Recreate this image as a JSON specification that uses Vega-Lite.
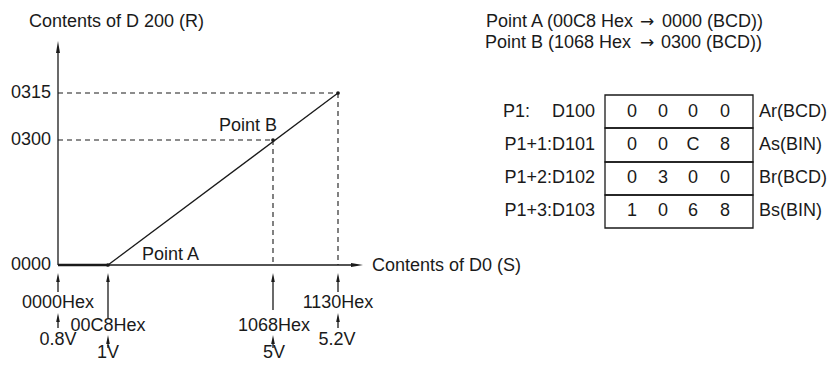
{
  "$schema": "https://vega.github.io/schema/vega-lite/v6.json",
  "width": 831,
  "height": 369,
  "autosize": {"type": "fit", "contains": "padding"},
  "padding": 0,
  "background": "white",
  "config": {"view": {"stroke": null}, "text": {"font": "Liberation Sans", "fontSize": 18, "color": "#1a1a1a"}},
  "datasets": {
    "solid": [
      {"x": 58, "y": 265, "x2": 58, "y2": 50},
      {"x": 58, "y": 265, "x2": 356, "y2": 265},
      {"x": 108, "y": 265, "x2": 338, "y2": 93},
      {"x": 58, "y": 280, "x2": 58, "y2": 292},
      {"x": 58, "y": 320, "x2": 58, "y2": 328},
      {"x": 108, "y": 280, "x2": 108, "y2": 318},
      {"x": 108, "y": 342, "x2": 108, "y2": 348},
      {"x": 273, "y": 280, "x2": 273, "y2": 310},
      {"x": 273, "y": 342, "x2": 273, "y2": 348},
      {"x": 338, "y": 280, "x2": 338, "y2": 292},
      {"x": 338, "y": 320, "x2": 338, "y2": 328}
    ],
    "thick": [{"x": 58, "y": 265, "x2": 108, "y2": 265}],
    "dashed": [
      {"x": 58, "y": 93, "x2": 338, "y2": 93},
      {"x": 338, "y": 93, "x2": 338, "y2": 265},
      {"x": 58, "y": 140, "x2": 273, "y2": 140},
      {"x": 273, "y": 140, "x2": 273, "y2": 265}
    ],
    "headsSmall": [
      {"x": 58, "y": 277.5}, {"x": 58, "y": 317.5}, {"x": 108, "y": 277.5}, {"x": 108, "y": 339.5},
      {"x": 273, "y": 277.5}, {"x": 273, "y": 339.5}, {"x": 338, "y": 277.5}, {"x": 338, "y": 317.5}
    ],
    "headUp": [{"x": 58, "y": 47}],
    "headRight": [{"x": 357, "y": 265}],
    "dots": [{"x": 108, "y": 265}, {"x": 273, "y": 140}, {"x": 338, "y": 93}],
    "cells": [
      {"x": 605, "x2": 753, "y": 95, "y2": 128},
      {"x": 605, "x2": 753, "y": 128, "y2": 162},
      {"x": 605, "x2": 753, "y": 162, "y2": 195},
      {"x": 605, "x2": 753, "y": 195, "y2": 228}
    ],
    "texts": [
      {"x": 29, "y": 22, "t": "Contents of D 200 (R)", "a": "left"},
      {"x": 51, "y": 93, "t": "0315", "a": "right"},
      {"x": 51, "y": 140, "t": "0300", "a": "right"},
      {"x": 51, "y": 265, "t": "0000", "a": "right"},
      {"x": 219, "y": 126, "t": "Point B", "a": "left"},
      {"x": 142, "y": 255, "t": "Point A", "a": "left"},
      {"x": 372, "y": 266, "t": "Contents of D0 (S)", "a": "left"},
      {"x": 58, "y": 303, "t": "0000Hex", "a": "center"},
      {"x": 58, "y": 340, "t": "0.8V", "a": "center"},
      {"x": 108, "y": 326, "t": "00C8Hex", "a": "center"},
      {"x": 108, "y": 353, "t": "1V", "a": "center"},
      {"x": 274, "y": 326, "t": "1068Hex", "a": "center"},
      {"x": 274, "y": 353, "t": "5V", "a": "center"},
      {"x": 338, "y": 303, "t": "1130Hex", "a": "center"},
      {"x": 337, "y": 340, "t": "5.2V", "a": "center"},
      {"x": 633, "y": 22, "t": "Point A (00C8 Hex", "a": "right"},
      {"x": 647, "y": 22, "t": "→", "a": "arrow"},
      {"x": 662, "y": 22, "t": "0000 (BCD))", "a": "left"},
      {"x": 631, "y": 43, "t": "Point B (1068 Hex", "a": "right"},
      {"x": 647, "y": 43, "t": "→", "a": "arrow"},
      {"x": 661, "y": 43, "t": "0300 (BCD))", "a": "left"},
      {"x": 503, "y": 112, "t": "P1:", "a": "left"},
      {"x": 595, "y": 112, "t": "D100", "a": "right"},
      {"x": 595, "y": 145, "t": "P1+1:D101", "a": "right"},
      {"x": 595, "y": 178, "t": "P1+2:D102", "a": "right"},
      {"x": 595, "y": 211, "t": "P1+3:D103", "a": "right"},
      {"x": 759, "y": 112, "t": "Ar(BCD)", "a": "left"},
      {"x": 759, "y": 145, "t": "As(BIN)", "a": "left"},
      {"x": 759, "y": 178, "t": "Br(BCD)", "a": "left"},
      {"x": 759, "y": 211, "t": "Bs(BIN)", "a": "left"},
      {"x": 632, "y": 112, "t": "0", "a": "center"},
      {"x": 663, "y": 112, "t": "0", "a": "center"},
      {"x": 693, "y": 112, "t": "0", "a": "center"},
      {"x": 725, "y": 112, "t": "0", "a": "center"},
      {"x": 632, "y": 145, "t": "0", "a": "center"},
      {"x": 663, "y": 145, "t": "0", "a": "center"},
      {"x": 693, "y": 145, "t": "C", "a": "center"},
      {"x": 725, "y": 145, "t": "8", "a": "center"},
      {"x": 632, "y": 178, "t": "0", "a": "center"},
      {"x": 663, "y": 178, "t": "3", "a": "center"},
      {"x": 693, "y": 178, "t": "0", "a": "center"},
      {"x": 725, "y": 178, "t": "0", "a": "center"},
      {"x": 632, "y": 211, "t": "1", "a": "center"},
      {"x": 663, "y": 211, "t": "0", "a": "center"},
      {"x": 693, "y": 211, "t": "6", "a": "center"},
      {"x": 725, "y": 211, "t": "8", "a": "center"}
    ]
  },
  "layer": [
    {
      "data": {"name": "cells"},
      "mark": {"type": "rect", "fill": null, "stroke": "#1a1a1a", "strokeWidth": 1.3},
      "encoding": {
        "x": {"field": "x", "type": "quantitative", "scale": {"domain": [0, 831], "nice": false, "zero": false}, "axis": null},
        "x2": {"field": "x2"},
        "y": {"field": "y", "type": "quantitative", "scale": {"domain": [0, 369], "nice": false, "zero": false, "reverse": true}, "axis": null},
        "y2": {"field": "y2"}
      }
    },
    {
      "data": {"name": "dashed"},
      "mark": {"type": "rule", "color": "#1a1a1a", "strokeWidth": 1.1, "strokeDash": [5, 4]},
      "encoding": {
        "x": {"field": "x", "type": "quantitative", "scale": {"domain": [0, 831], "nice": false, "zero": false}, "axis": null},
        "x2": {"field": "x2"},
        "y": {"field": "y", "type": "quantitative", "scale": {"domain": [0, 369], "nice": false, "zero": false, "reverse": true}, "axis": null},
        "y2": {"field": "y2"}
      }
    },
    {
      "data": {"name": "solid"},
      "mark": {"type": "rule", "color": "#1a1a1a", "strokeWidth": 1.3},
      "encoding": {
        "x": {"field": "x", "type": "quantitative", "scale": {"domain": [0, 831], "nice": false, "zero": false}, "axis": null},
        "x2": {"field": "x2"},
        "y": {"field": "y", "type": "quantitative", "scale": {"domain": [0, 369], "nice": false, "zero": false, "reverse": true}, "axis": null},
        "y2": {"field": "y2"}
      }
    },
    {
      "data": {"name": "thick"},
      "mark": {"type": "rule", "color": "#1a1a1a", "strokeWidth": 2.4},
      "encoding": {
        "x": {"field": "x", "type": "quantitative", "scale": {"domain": [0, 831], "nice": false, "zero": false}, "axis": null},
        "x2": {"field": "x2"},
        "y": {"field": "y", "type": "quantitative", "scale": {"domain": [0, 369], "nice": false, "zero": false, "reverse": true}, "axis": null},
        "y2": {"field": "y2"}
      }
    },
    {
      "data": {"name": "headsSmall"},
      "mark": {"type": "point", "shape": "M0,-1L0.4,1L-0.4,1Z", "filled": true, "color": "#1a1a1a", "opacity": 1, "size": 81, "strokeWidth": 0},
      "encoding": {
        "x": {"field": "x", "type": "quantitative", "scale": {"domain": [0, 831], "nice": false, "zero": false}, "axis": null},
        "y": {"field": "y", "type": "quantitative", "scale": {"domain": [0, 369], "nice": false, "zero": false, "reverse": true}, "axis": null}
      }
    },
    {
      "data": {"name": "headUp"},
      "mark": {"type": "point", "shape": "M0,-1L0.33,1L-0.33,1Z", "filled": true, "color": "#1a1a1a", "opacity": 1, "size": 144, "strokeWidth": 0},
      "encoding": {
        "x": {"field": "x", "type": "quantitative", "scale": {"domain": [0, 831], "nice": false, "zero": false}, "axis": null},
        "y": {"field": "y", "type": "quantitative", "scale": {"domain": [0, 369], "nice": false, "zero": false, "reverse": true}, "axis": null}
      }
    },
    {
      "data": {"name": "headRight"},
      "mark": {"type": "point", "shape": "M1,0L-1,-0.33L-1,0.33Z", "filled": true, "color": "#1a1a1a", "opacity": 1, "size": 144, "strokeWidth": 0},
      "encoding": {
        "x": {"field": "x", "type": "quantitative", "scale": {"domain": [0, 831], "nice": false, "zero": false}, "axis": null},
        "y": {"field": "y", "type": "quantitative", "scale": {"domain": [0, 369], "nice": false, "zero": false, "reverse": true}, "axis": null}
      }
    },
    {
      "data": {"name": "dots"},
      "mark": {"type": "circle", "color": "#1a1a1a", "opacity": 1, "size": 14},
      "encoding": {
        "x": {"field": "x", "type": "quantitative", "scale": {"domain": [0, 831], "nice": false, "zero": false}, "axis": null},
        "y": {"field": "y", "type": "quantitative", "scale": {"domain": [0, 369], "nice": false, "zero": false, "reverse": true}, "axis": null}
      }
    },
    {
      "data": {"name": "texts"},
      "transform": [{"filter": "datum.a === 'left'"}],
      "mark": {"type": "text", "align": "left", "baseline": "middle"},
      "encoding": {
        "x": {"field": "x", "type": "quantitative", "scale": {"domain": [0, 831], "nice": false, "zero": false}, "axis": null},
        "y": {"field": "y", "type": "quantitative", "scale": {"domain": [0, 369], "nice": false, "zero": false, "reverse": true}, "axis": null},
        "text": {"field": "t"}
      }
    },
    {
      "data": {"name": "texts"},
      "transform": [{"filter": "datum.a === 'right'"}],
      "mark": {"type": "text", "align": "right", "baseline": "middle"},
      "encoding": {
        "x": {"field": "x", "type": "quantitative", "scale": {"domain": [0, 831], "nice": false, "zero": false}, "axis": null},
        "y": {"field": "y", "type": "quantitative", "scale": {"domain": [0, 369], "nice": false, "zero": false, "reverse": true}, "axis": null},
        "text": {"field": "t"}
      }
    },
    {
      "data": {"name": "texts"},
      "transform": [{"filter": "datum.a === 'center'"}],
      "mark": {"type": "text", "align": "center", "baseline": "middle"},
      "encoding": {
        "x": {"field": "x", "type": "quantitative", "scale": {"domain": [0, 831], "nice": false, "zero": false}, "axis": null},
        "y": {"field": "y", "type": "quantitative", "scale": {"domain": [0, 369], "nice": false, "zero": false, "reverse": true}, "axis": null},
        "text": {"field": "t"}
      }
    },
    {
      "data": {"name": "texts"},
      "transform": [{"filter": "datum.a === 'arrow'"}],
      "mark": {"type": "text", "align": "center", "baseline": "middle", "font": "DejaVu Sans", "fontSize": 17},
      "encoding": {
        "x": {"field": "x", "type": "quantitative", "scale": {"domain": [0, 831], "nice": false, "zero": false}, "axis": null},
        "y": {"field": "y", "type": "quantitative", "scale": {"domain": [0, 369], "nice": false, "zero": false, "reverse": true}, "axis": null},
        "text": {"field": "t"}
      }
    }
  ]
}
